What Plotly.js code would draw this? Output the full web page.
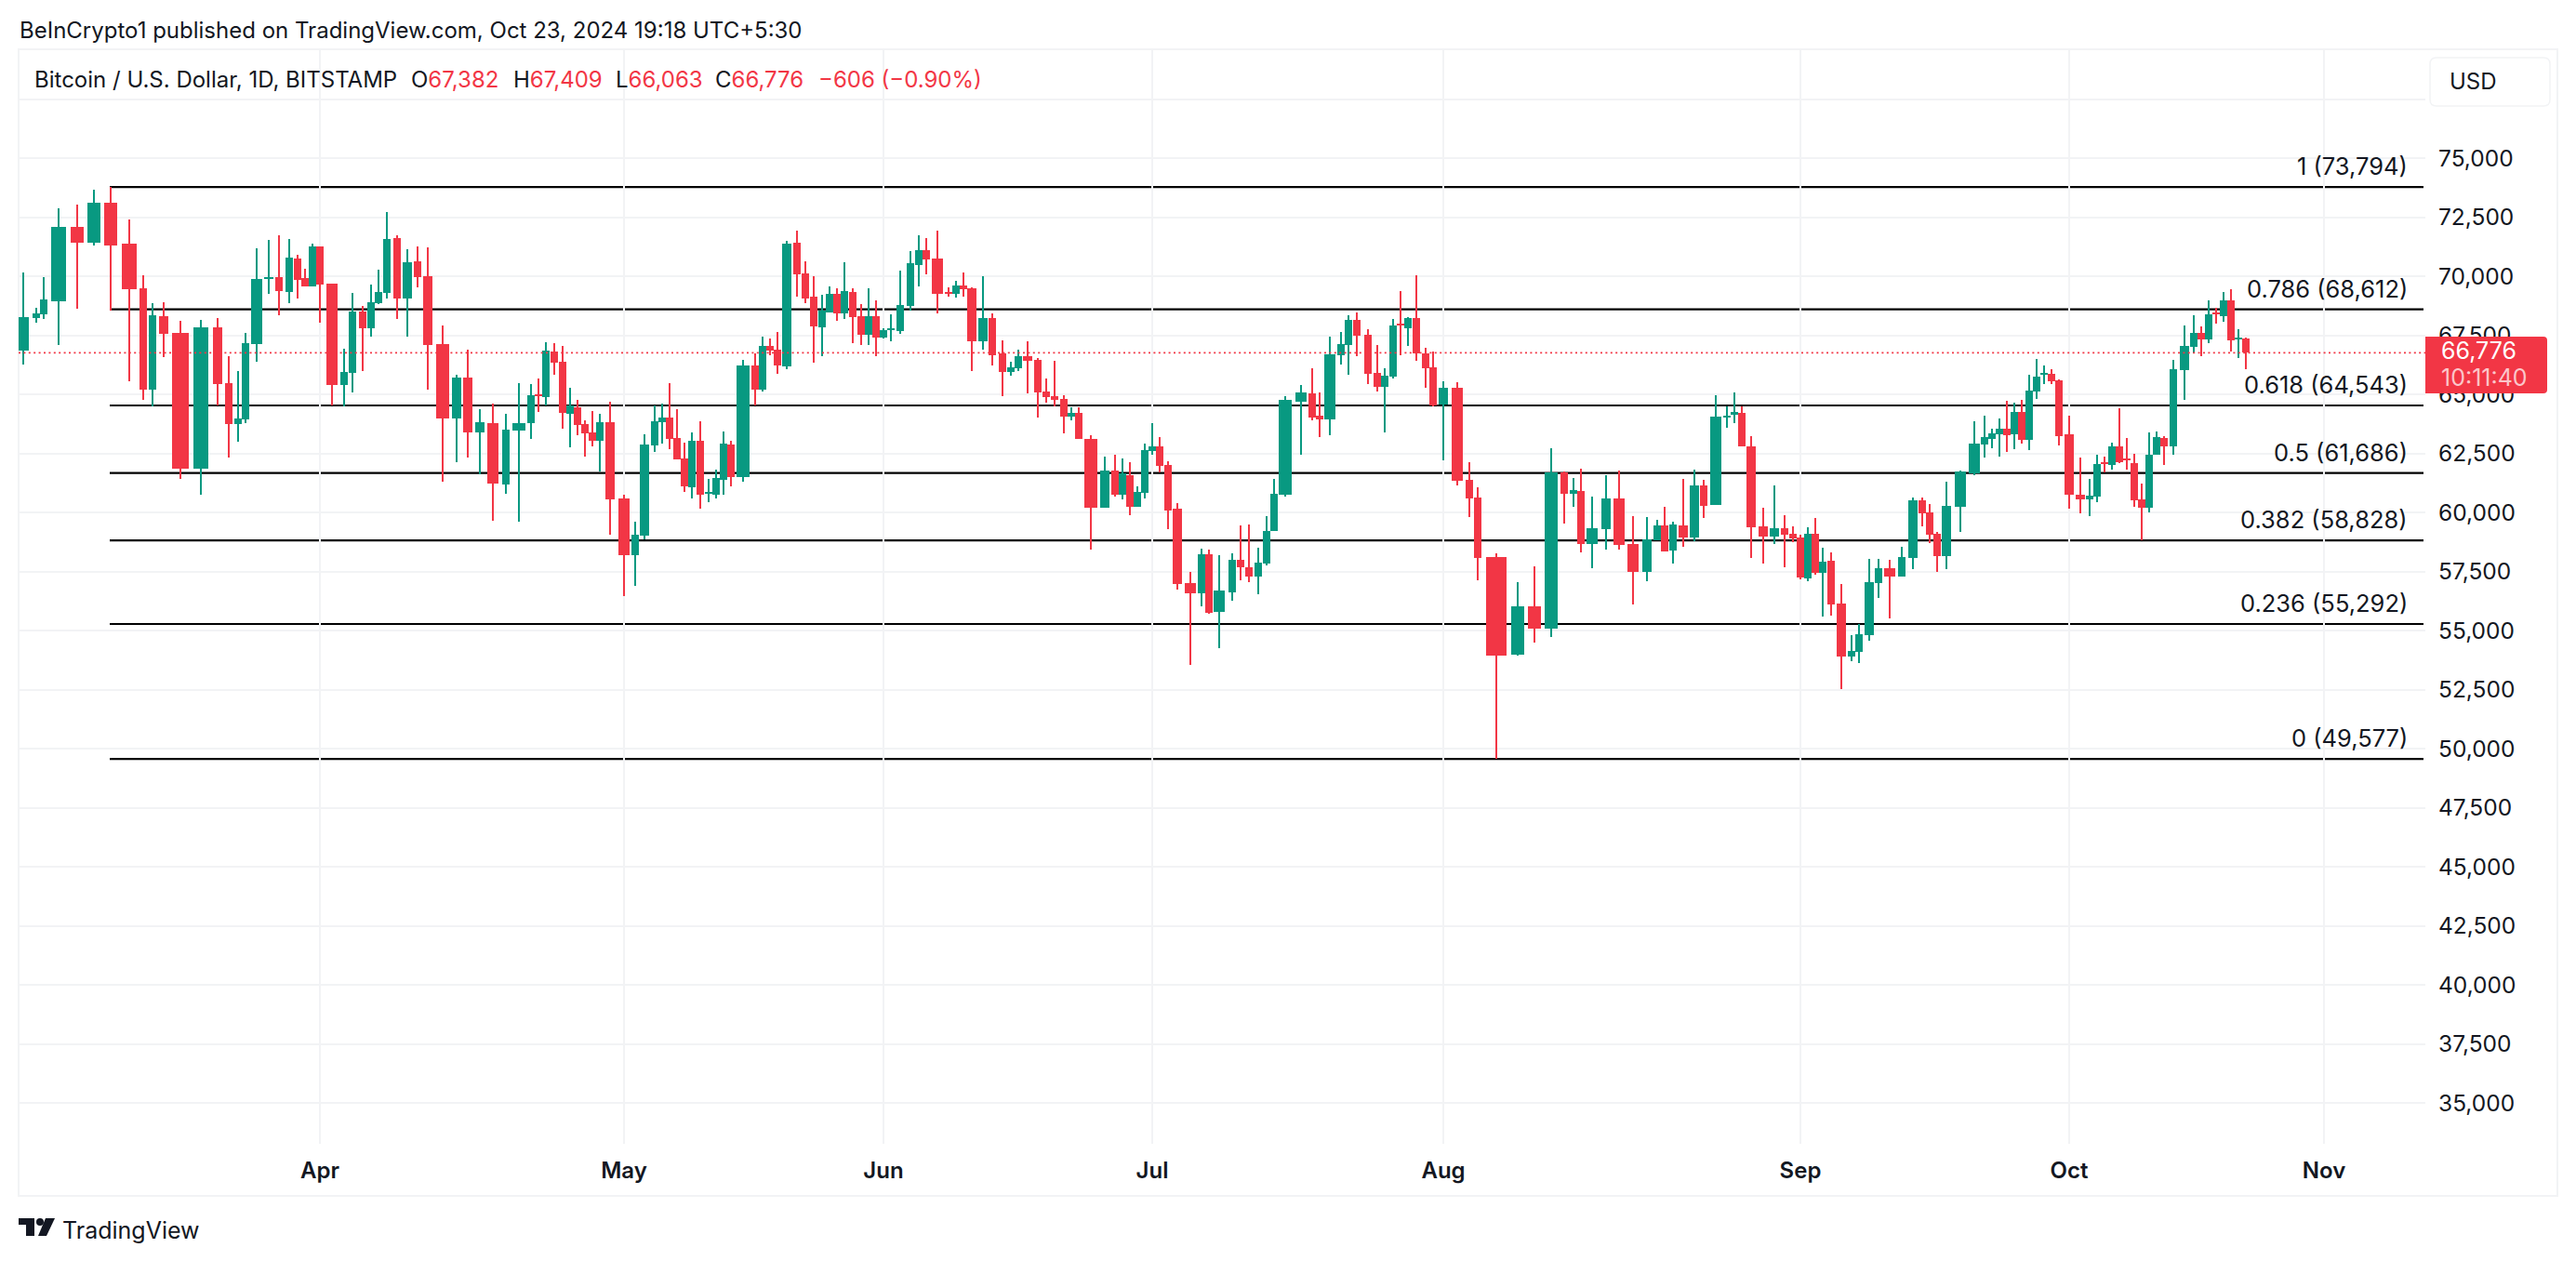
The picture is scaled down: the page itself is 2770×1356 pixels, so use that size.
<!DOCTYPE html>
<html><head><meta charset="utf-8">
<script src="https://cdn.plot.ly/plotly-3.0.1.min.js"></script>
<style>html,body{margin:0;padding:0;background:#fff}#c{width:2770px;height:1356px}</style>
</head><body><div id="c"></div>
<script>
const openPrice=[66867,68257,68402,68953,72102,71432,73125,71393,69504,65214,
68323,67614,61868,67851,65489,63757,63954,67142,69884,69976,
69346,70763,69937,69582,71275,69701,65410,65922,68520,67811,
68874,69307,71629,69071,70645,70015,67142,63993,65725,63403,
63797,61199,63482,63797,65017,64899,66827,66394,64190,64466,
63757,63403,63049,63836,60608,58207,59034,62852,63836,64033,
63167,62301,61081,63049,60805,60766,61396,62891,61514,66237,
65214,67063,66906,66198,71432,70134,69150,67851,68480,69268,
68441,69346,68323,67536,68323,67418,67733,67693,68756,70488,
71118,70763,69346,69268,69622,69504,67260,68244,66749,65961,
66119,66630,66473,65135,64938,64820,64072,64230,63127,60215,
61789,60766,61592,60254,60845,62616,62813,62025,60190,57042,
56609,58262,55821,56648,58026,57711,57317,57868,59246,60757,
64712,65065,64114,63937,66682,67117,68177,67552,65935,65337,
65772,67973,67797,68245,66764,66166,64576,65296,61396,60648,
58121,53976,56028,55076,61720,60798,60920,58664,59303,60607,
58664,57482,58827,59452,58392,59452,58950,61151,60318,64058,
64176,64215,62798,59413,58980,59334,59098,58941,57209,59098,
57445,57957,56146,53903,54099,54808,57012,57642,57288,58075,
60515,60003,59098,58154,60240,61657,62877,63113,63310,63546,
63310,64254,63074,65135,65844,65883,65608,63325,60766,60569,
60688,62144,62026,62813,62262,62104,60569,60215,62459,63167,
62813,66040,67024,67615,67339,68441,68323,68992,67340,67382];
const highPrice=[70160,68664,69963,72876,73033,73676,73794,72416,70042,68861,
68913,68126,68166,68231,66630,66001,67614,71196,71550,71734,
71590,70921,70330,71380,71275,69701,66945,69307,68756,69661,
70291,72731,71734,71157,71275,71236,67929,65843,66893,64387,
64623,64190,65489,65450,65686,67221,67182,67063,65292,64781,
63915,64308,64190,64702,60766,59624,63324,64544,64623,65489,
64387,62970,63403,63875,61435,61829,63442,63049,66473,66749,
67457,67378,67654,71511,71944,70645,70015,69228,69582,69504,
70606,69504,68835,69504,68992,67811,68402,70252,71078,71747,
71629,71944,69543,69819,70173,69543,70015,68441,67300,66394,
66906,67260,66552,65686,66434,64977,64466,64466,63285,62380,
62458,62301,62143,61120,62931,63797,63206,62183,60426,57514,
58498,58458,58222,58301,59482,59521,58537,59875,61450,64943,
65405,66125,65106,67470,67634,68381,68490,67769,67117,66125,
68218,69400,68286,70039,66981,66818,65581,65541,62143,61070,
58270,57047,57726,62714,61760,61477,61858,60675,61586,61776,
59846,59819,59697,60254,59615,61436,61831,61396,64963,64504,
65081,64504,63231,60200,61145,59885,59413,59059,59374,59767,
58508,58311,56973,54808,55280,58035,58035,57996,58547,60633,
60633,60358,59177,61302,61775,63861,64097,63546,63979,64727,
64648,64766,65829,66513,66237,66080,65647,64112,62341,61435,
62459,62380,62970,64427,63167,62498,61239,63403,63443,63246,
66473,67930,68363,67890,68992,68678,69347,69465,67772,67409];
const lowPrice=[66289,68061,68218,67103,68651,71314,68572,65581,64781,64518,
66591,61435,60779,64544,62340,63009,63797,66394,69268,68362,
68874,69071,69582,69582,68047,64544,64505,65095,66001,67457,
68835,69071,68205,67457,69543,65214,61317,62143,62340,61632,
59664,60805,59624,63127,64269,64544,65843,63560,62773,63285,
62380,62813,61750,59073,56476,56909,58877,62576,62931,62694,
62262,60884,60608,60175,60451,60608,60766,61120,61317,64544,
65135,66670,65883,66079,69150,68874,66355,66630,68480,68126,
68205,67182,67103,67103,66630,67378,67260,67575,68559,69582,
70094,68441,69150,69110,69150,66001,66906,66237,64938,65804,
66001,65056,64033,64662,64505,63364,63915,63127,58444,60215,
60687,60569,59900,60254,60608,62458,61710,59310,56766,53578,
56058,55743,54286,56294,57160,57081,56569,57789,59246,60675,
62469,63896,63203,63285,66288,65853,66614,65459,65119,63407,
65690,66655,67076,66451,65296,64508,62225,61151,59819,57128,
49577,53935,54519,54723,59534,60254,58311,57645,58433,58433,
56109,57088,58827,58352,57849,58555,58786,59778,60318,63585,
63782,62798,58075,57839,58665,57681,58744,57170,57091,57366,
55595,55635,52525,53706,53627,54572,56382,55516,57288,57603,
59413,58705,57484,57603,59177,61578,62326,62719,62365,62562,
62680,62916,62641,64820,65450,65450,62852,60176,59979,59861,
60451,61711,61829,62104,61829,60255,58850,60018,62459,62026,
62459,64781,66749,66631,67182,68008,68087,66828,66552,66063];
const closePrice=[68284,68441,69031,72102,71432,73125,71314,69464,65214,68362,
67575,61868,67851,65450,63757,63993,67182,69897,69976,69386,
70803,69858,69582,71275,69661,65410,65961,68520,67811,68913,
69346,71590,69071,70606,69976,67103,63993,65725,63403,63836,
61238,63521,63797,64977,64938,66867,66355,64230,64544,63718,
63364,63049,63836,60569,58207,59073,62891,63875,64033,63127,
62262,61120,63049,60766,60845,61474,62931,61514,66237,65214,
67063,66867,66237,71393,70094,69071,67890,68559,69268,68441,
69386,68284,67536,68323,67418,67733,67772,68795,70566,71118,
70724,69268,69268,69622,69464,67260,68244,66670,65961,66158,
66630,66434,65095,64899,64781,64072,64230,63127,60215,61789,
60766,61671,60254,60884,62655,62813,61986,60097,57002,56609,
58262,55782,56727,58026,57711,57317,57907,59246,60820,64780,
65079,64046,63937,66723,67144,68177,67511,65894,65323,65812,
67946,67932,68245,66764,66125,64543,65296,61355,60607,58080,
53935,56028,55076,61708,60798,60961,58664,59330,60607,58623,
57482,58868,59452,58352,59493,58950,61151,60309,64058,64097,
64254,62798,59374,58980,59334,59059,58901,57248,59098,57445,
57917,56107,53903,54139,54847,57051,57642,57288,58114,60515,
59964,59059,58154,60279,61735,62916,63192,63349,63546,63270,
64254,63074,65160,65765,65883,65568,63246,60766,60569,60727,
62065,62065,62813,62144,62223,60530,60215,62459,63207,62813,
66080,67064,67615,67339,68402,68402,68992,67300,67382,66776];
// Horizontal place of each session on the chart's time axis
const sessionSlot=[2.5,3.9,4.7,6.3,8.3,10.1,11.9,13.9,15.4,16.4,
17.6,19.4,21.6,23.4,24.6,25.6,26.4,27.6,28.9,30.0,
31.1,32.0,32.8,33.6,34.4,35.7,37.0,37.9,39.0,39.9,
40.7,41.6,42.7,43.8,44.9,46.0,47.6,49.1,50.3,51.6,
53.0,54.4,55.8,57.1,57.9,58.7,59.6,60.5,61.3,62.1,
62.9,63.7,64.5,65.6,67.1,68.3,69.3,70.4,71.2,72.0,
72.8,73.6,74.4,75.3,76.2,77.0,77.8,78.6,79.9,81.2,
82.0,82.8,83.6,84.6,85.7,86.6,87.5,88.4,89.2,90.0,
90.8,91.7,92.6,93.4,94.2,95.0,95.8,96.8,97.9,98.8,
99.6,100.8,102.0,102.8,103.6,104.5,105.7,106.7,107.8,108.7,
109.5,110.5,111.6,112.5,113.4,114.4,115.2,116.0,117.3,118.8,
119.9,120.7,121.5,122.3,123.1,123.9,124.7,125.6,126.6,128.0,
129.2,130.0,131.1,132.5,133.4,134.3,135.3,136.2,137.0,138.2,
139.9,141.1,141.9,143.0,144.2,145.0,145.9,147.1,148.1,148.9,
149.8,150.6,151.4,152.3,153.3,154.1,155.2,156.7,158.0,158.9,
160.9,163.2,165.0,166.8,168.2,169.2,170.0,171.2,172.7,174.1,
175.6,177.1,178.2,179.0,179.9,181.0,182.2,183.2,184.5,185.7,
186.5,187.3,188.3,189.6,190.8,191.9,192.8,193.6,194.4,195.2,
196.0,196.9,198.0,199.1,199.9,201.0,202.0,203.2,204.5,205.7,
206.7,207.5,208.3,209.3,210.8,212.3,213.4,214.2,215.0,215.8,
216.6,217.4,218.2,219.0,219.8,220.6,221.4,222.5,223.7,224.7,
225.5,226.3,227.1,227.9,228.7,229.5,230.3,231.1,231.9,232.7,
233.7,234.9,235.9,236.7,237.5,238.3,239.1,239.9,240.7,241.5];
// Wider-than-usual candle bodies: session number -> body width in axis units
const wideBodies={1:1.27,4:1.6,5:1.4,6:1.4,7:1.4,8:1.6,11:1,12:1.8,13:1.6,14:1,18:1.2,19:1,26:1.2,34:1,36:1,37:1.4,38:1,39:1,40:1,41:1.2,43:1.4,54:1,55:1.2,57:1,69:1.4,74:1,92:1.2,96:1,97:1,102:1,109:1.4,110:1,119:1,120:1.2,123:1.2,130:1.4,131:1.2,134:1.2,147:1,148:1.2,151:2.2,152:1.4,153:1.4,154:1.4,158:1.2,159:1,160:1.2,161:1.2,162:1,166:1,167:1,169:1.2,173:1,174:1,175:1,183:1,186:1,188:1.2,190:1,194:1,195:1.2,196:1.2,208:1,209:1,222:1};

const monthLabels=['Apr','May','Jun','Jul','Aug','Sep','Oct','Nov'];
const monthSlots=[34.4,67.1,95.0,123.9,155.2,193.6,222.5,249.9];
const priceTicks=[35000,37500,40000,42500,45000,47500,50000,52500,55000,57500,60000,62500,65000,67500,70000,72500,75000,77500];
const priceTickLabels=['35,000','37,500','40,000','42,500','45,000','47,500','50,000','52,500','55,000','57,500','60,000','62,500','65,000','67,500','70,000','72,500','75,000',''];
const fibRatios=['1','0.786','0.618','0.5','0.382','0.236','0'];
const fibLevels=[73794,68612,64543,61686,58828,55292,49577];
const lastPrice=66776;

const UP='#089981',DOWN='#f23645',INK='#131722',GRID='#f2f3f5';
const FONT='Inter, "Noto Sans", sans-serif';
const W=2770,H=1356,L=20,T=53,R=2750,B=1286,PR=2608,PB=1230;
const px=X=>(X-L)/(R-L), py=Y=>1-(Y-T)/(B-T);
const fmt=n=>n.toLocaleString('en-US');
const isUp=closePrice.map((c,i)=>c>=openPrice[i]);
const colors=isUp.map(u=>u?UP:DOWN);
const firstDay=Date.UTC(2024,2,8);
const dayText=sessionSlot.map((_,i)=>new Date(firstDay+i*864e5).toISOString().slice(0,10)+'  O '+fmt(openPrice[i])+' H '+fmt(highPrice[i])+' L '+fmt(lowPrice[i])+' C '+fmt(closePrice[i]));

const traces=[
 {type:'bar',name:'range',x:sessionSlot,base:lowPrice,y:highPrice.map((h,i)=>h-lowPrice[i]),
  width:sessionSlot.map(()=>0.24),marker:{color:colors,line:{width:0}},hoverinfo:'text',hovertext:dayText,showlegend:false},
 {type:'bar',name:'body',x:sessionSlot,base:openPrice.map((o,i)=>Math.min(o,closePrice[i])),
  y:openPrice.map((o,i)=>Math.abs(closePrice[i]-o)),
  width:sessionSlot.map((_,i)=>wideBodies[i+1]||0.8),marker:{color:colors,line:{width:0}},hoverinfo:'text',hovertext:dayText,showlegend:false},
 {type:'scatter',mode:'lines',x:[2,260.8],y:[lastPrice,lastPrice],line:{color:DOWN,width:1.8,dash:'2px,3.4px'},hoverinfo:'skip',showlegend:false}
];

const ann=(X,Y,text,opt={})=>Object.assign({xref:'paper',yref:'paper',x:px(X),y:py(Y),text,showarrow:false,xanchor:'left',yanchor:'middle',align:'left',
  font:{family:FONT,size:24,color:INK},borderpad:0},opt);
const red=s=>`<span style="color:${DOWN}">${s}</span>`;
const annotations=[
 ann(20,33,'BeInCrypto1 published on TradingView.com, Oct 23, 2024 19:18 UTC+5:30'),
 ann(36,86,'Bitcoin / U.S. Dollar, 1D, BITSTAMP'),
 ann(441,86,'O'+red('67,382')),
 ann(551,86,'H'+red('67,409')),
 ann(661,86,'L'+red('66,063')),
 ann(768,86,'C'+red('66,776')),
 ann(879,86,red('\u2212606 (\u22120.90%)')),
 ann(2633,87,'USD'),
 ann(2624,377,fmt(lastPrice),{font:{family:FONT,size:25,color:'#ffffff'}}),
 ann(2624,406,'10:11:40',{font:{family:FONT,size:25,color:'rgba(255,255,255,0.72)'}}),
 ann(66,1323,'TradingView',{font:{family:FONT,size:25,color:INK}}),
 ...fibRatios.map((r,i)=>({xref:'x',yref:'y',x:259.0,y:fibLevels[i],text:`${r} (${fmt(fibLevels[i])})`,showarrow:false,
   xanchor:'right',yanchor:'bottom',yshift:6,borderpad:0,font:{family:FONT,size:25.5,color:INK}}))
];
const P=(X,Y)=>px(X).toFixed(5)+','+py(Y).toFixed(5);
const poly=pts=>'M'+pts.map(p=>P(p[0],p[1])).join('L')+'Z';
const fill=c=>({xref:'paper',yref:'paper',fillcolor:c,line:{width:0},layer:'above'});
const shapes=[
 {type:'rect',xref:'paper',yref:'paper',x0:0,x1:1,y0:0,y1:1,line:{color:GRID,width:2},layer:'below'},
 ...fibLevels.map(v=>({type:'line',xref:'x',yref:'y',x0:11.8,x1:260.6,y0:v,y1:v,line:{color:'#000000',width:2.2},layer:'below'})),
 {type:'path',xref:'paper',yref:'paper',path:'M'+P(2620,62)+'L'+P(2735,62)+'Q'+P(2742,62)+' '+P(2742,69)+'L'+P(2742,107)+'Q'+P(2742,114)+' '+P(2735,114)+'L'+P(2620,114)+'Q'+P(2613,114)+' '+P(2613,107)+'L'+P(2613,69)+'Q'+P(2613,62)+' '+P(2620,62)+'Z',line:{color:GRID,width:1.5},fillcolor:'#ffffff',layer:'above'},
 Object.assign({type:'path',path:'M'+P(2608,362)+'L'+P(2735,362)+'Q'+P(2739,362)+' '+P(2739,366)+'L'+P(2739,419)+'Q'+P(2739,423)+' '+P(2735,423)+'L'+P(2608,423)+'Z'},fill(DOWN)),
 Object.assign({type:'path',path:poly([[20,1310],[37,1310],[37,1329],[28,1329],[28,1317],[20,1317]])},fill(INK)),
 Object.assign({type:'circle',x0:px(39),x1:px(47),y0:py(1318),y1:py(1310)},fill(INK)),
 Object.assign({type:'path',path:poly([[49,1310],[59,1310],[50,1329],[41,1329]])},fill(INK))
];
const layout={
 width:W,height:H,paper_bgcolor:'#ffffff',plot_bgcolor:'#ffffff',showlegend:false,barmode:'overlay',bargap:0,
 margin:{l:L,r:W-R,t:T,b:H-B,pad:0},hovermode:'closest',
 xaxis:{domain:[0,(PR-L)/(R-L)],range:[2,260.8],type:'linear',tickmode:'array',tickvals:monthSlots,ticktext:monthLabels,
   showgrid:true,gridcolor:GRID,gridwidth:2,zeroline:false,showline:false,ticks:'',ticklabelstandoff:12,
   tickfont:{family:FONT,size:24,color:INK,weight:600},fixedrange:true},
 yaxis:{domain:[(B-PB)/(B-T),1],range:[33283,79622],side:'right',type:'linear',tickmode:'array',tickvals:priceTicks,ticktext:priceTickLabels,
   showgrid:true,gridcolor:GRID,gridwidth:2,zeroline:false,showline:false,ticks:'',ticklabelstandoff:13,
   tickfont:{family:FONT,size:24.5,color:INK},fixedrange:true},
 annotations,shapes
};
Plotly.newPlot('c',traces,layout,{displayModeBar:false,responsive:false});
</script></body></html>
